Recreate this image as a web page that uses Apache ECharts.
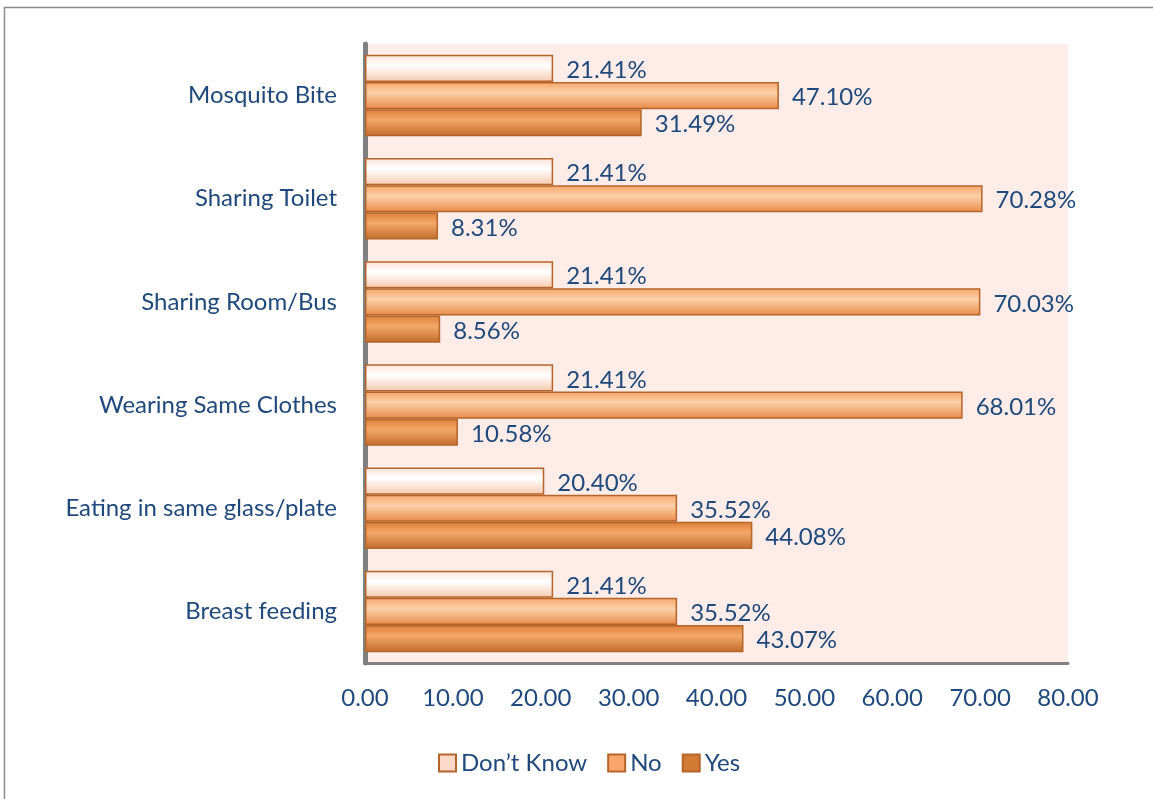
<!DOCTYPE html>
<html><head><meta charset="utf-8">
<script src="https://cdn.jsdelivr.net/npm/echarts@6/dist/echarts.min.js"></script>
<style>html,body{margin:0;padding:0;background:#fff}#c{width:1153px;height:799px}</style>
</head><body><div id="c"></div>
<script>
const categories = ["Mosquito Bite","Sharing Toilet","Sharing Room/Bus","Wearing Same Clothes","Eating in same glass/plate","Breast feeding"];
const dontKnow = [21.41,21.41,21.41,21.41,20.40,21.41];
const no = [47.10,70.28,70.03,68.01,35.52,35.52];
const yes = [31.49,8.31,8.56,10.58,44.08,43.07];
const xTicks = [0,10,20,30,40,50,60,70,80];

const FONT = "Lato, 'Open Sans', sans-serif";
const TXT = '#1f497d';
const FS = 24;
function grad(a,b,c){
  return new echarts.graphic.LinearGradient(0,0,0,1,[{offset:0,color:a},{offset:0.4,color:b},{offset:1,color:c}]);
}
const chart = echarts.init(document.getElementById('c'), null, {renderer:'canvas'});
function mk(name, data, fill){
  return {
    name, type:'bar', data, barGap:'0%', barCategoryGap:'21%',
    itemStyle:{color:fill, borderColor:'#b5652a', borderWidth:1.5},
    label:{show:true, position:'right', distance:13, offset:[0,2], color:TXT, fontFamily:FONT, fontSize:FS,
      formatter:p=>p.value.toFixed(2)+'%'}
  };
}
chart.setOption({
  animation:false,
  graphic:[{type:'rect', shape:{x:4.5,y:7.5,width:1200,height:900}, style:{fill:'none',stroke:'#8c8c8c',lineWidth:1.5}, z:-10}],
  legend:{
    bottom:19, left:433, itemWidth:17, itemHeight:17, itemGap:20, icon:'rect',
    textStyle:{color:TXT, fontFamily:FONT, fontSize:FS},
    data:[
      {name:"Don\u2019t Know", itemStyle:{color:'#fcd8c8', borderColor:'#b5652a', borderWidth:2}},
      {name:"No", itemStyle:{color:'#f9a66c', borderColor:'#b5652a', borderWidth:2}},
      {name:"Yes", itemStyle:{color:'#d27b35', borderColor:'#b5652a', borderWidth:2}}
    ]
  },
  grid:{left:365, right:85, top:44, bottom:136, show:true, backgroundColor:'#fdece8', borderWidth:0},
  xAxis:{type:'value', min:0, max:80, interval:10,
    axisLine:{show:true, lineStyle:{color:'#808080', width:3}},
    axisTick:{show:false}, splitLine:{show:false},
    axisLabel:{color:TXT, fontFamily:FONT, fontSize:FS, margin:23, formatter:v=>v.toFixed(2)}},
  yAxis:{type:'category', data:categories, inverse:true,
    axisLine:{show:true, lineStyle:{color:'#808080', width:5}},
    axisTick:{show:false},
    axisLabel:{color:TXT, fontFamily:FONT, fontSize:FS, margin:28, padding:[4,0,0,0]}},
  series:[
    mk("Don\u2019t Know", dontKnow, grad('#fbe3d6','#ffffff','#f6c9ae')),
    mk("No", no, grad('#f7a56a','#fcd0a8','#e88a48')),
    mk("Yes", yes, grad('#dc7e38','#f4a868','#c06a2a'))
  ]
});
</script></body></html>
